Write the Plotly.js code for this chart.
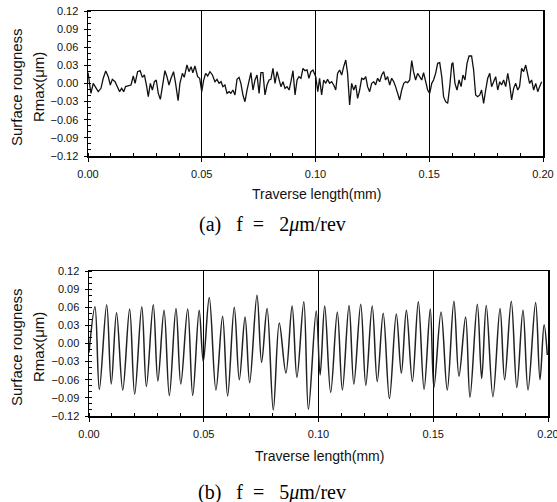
<!DOCTYPE html>
<html>
<head>
<meta charset="utf-8">
<script src="https://cdn.plot.ly/plotly-3.0.1.min.js"></script>
<style>html,body{margin:0;padding:0;background:#fff;overflow:hidden;}#chart{width:557px;height:502px;}</style>
</head>
<body>
<div id="chart"></div>
<script>
// (a) f = 2 um/rev : traverse length (mm) and Rmax (um)
var xA = [0.0000,0.0013,0.0023,0.0034,0.0045,0.0057,0.0067,0.0078,0.0089,0.0098,0.0107,0.0119,0.0130,0.0139,0.0148,0.0157,0.0165,0.0177,0.0189,0.0199,
0.0207,0.0218,0.0229,0.0239,0.0248,0.0258,0.0265,0.0274,0.0283,0.0292,0.0300,0.0309,0.0318,0.0327,0.0338,0.0347,0.0356,0.0365,0.0376,0.0385,
0.0396,0.0404,0.0415,0.0423,0.0435,0.0444,0.0453,0.0461,0.0470,0.0482,0.0491,0.0500,0.0508,0.0517,0.0526,0.0536,0.0547,0.0558,0.0567,0.0576,
0.0585,0.0593,0.0602,0.0611,0.0620,0.0628,0.0637,0.0646,0.0655,0.0664,0.0672,0.0681,0.0690,0.0699,0.0708,0.0716,0.0725,0.0734,0.0743,0.0752,
0.0760,0.0769,0.0778,0.0787,0.0796,0.0804,0.0813,0.0822,0.0831,0.0840,0.0848,0.0857,0.0866,0.0875,0.0884,0.0892,0.0901,0.0910,0.0919,0.0927,
0.0936,0.0945,0.0954,0.0963,0.0971,0.0980,0.0989,
0.1001,0.1010,0.1018,0.1027,0.1036,0.1045,0.1053,0.1062,0.1071,0.1080,0.1089,0.1097,0.1106,0.1115,0.1124,0.1133,0.1141,0.1150,0.1159,0.1168,
0.1177,0.1185,0.1194,0.1203,0.1212,0.1221,0.1229,0.1238,0.1247,0.1256,0.1264,0.1273,0.1282,0.1291,0.1300,0.1308,0.1317,0.1326,0.1335,0.1344,
0.1352,0.1361,0.1370,0.1379,0.1388,0.1396,0.1405,0.1414,0.1423,0.1431,0.1440,0.1449,0.1458,0.1467,0.1475,0.1484,0.1493,0.1502,0.1511,0.1519,
0.1528,0.1537,0.1546,0.1555,0.1563,0.1572,0.1581,0.1590,0.1599,0.1604,0.1613,0.1622,0.1631,0.1640,0.1648,0.1657,0.1666,0.1675,0.1686,0.1695,
0.1704,0.1713,0.1722,0.1730,0.1739,0.1748,0.1757,0.1766,0.1774,0.1783,0.1792,0.1801,0.1810,0.1818,0.1827,0.1836,0.1845,0.1853,0.1862,0.1871,
0.1880,0.1889,0.1897,0.1906,0.1915,0.1924,0.1933,0.1941,0.1950,0.1959,0.1968,0.1977,0.1985,0.1994];
var yA = [0.0180,-0.0163,0.0003,-0.0080,-0.0135,-0.0080,0.0086,0.0207,0.0113,-0.0025,0.0069,0.0030,-0.0080,-0.0135,-0.0080,-0.0135,-0.0052,-0.0041,-0.0025,0.0124,
0.0003,0.0196,0.0212,0.0102,0.0141,-0.0052,-0.0218,0.0003,-0.0108,0.0030,0.0058,-0.0163,-0.0262,-0.0052,0.0212,0.0113,-0.0025,0.0086,0.0196,0.0003,
-0.0284,0.0003,0.0168,0.0102,0.0306,0.0196,0.0279,0.0179,0.0290,0.0113,0.0086,-0.0135,0.0047,0.0168,0.0124,0.0196,0.0141,0.0030,0.0069,0.0003,
0.0030,-0.0052,-0.0025,-0.0163,-0.0135,-0.0163,-0.0108,-0.0190,0.0069,0.0102,0.0003,-0.0190,-0.0301,-0.0108,0.0030,0.0179,-0.0108,0.0058,0.0141,-0.0163,
0.0179,0.0179,-0.0190,-0.0025,0.0058,0.0069,0.0251,0.0003,0.0196,0.0086,-0.0052,0.0030,-0.0080,-0.0052,-0.0108,0.0030,0.0212,-0.0190,0.0058,0.0113,
0.0086,0.0251,0.0212,0.0224,0.0086,0.0196,0.0224,
0.0113,-0.0135,0.0086,-0.0190,0.0058,0.0003,0.0069,0.0003,0.0030,-0.0025,-0.0108,0.0168,0.0224,0.0141,0.0279,0.0389,0.0168,-0.0356,0.0003,-0.0108,
-0.0025,-0.0246,-0.0108,0.0086,0.0069,0.0113,-0.0052,-0.0135,0.0003,0.0030,-0.0025,0.0086,0.0030,0.0141,0.0196,0.0058,0.0113,-0.0025,0.0086,0.0030,
-0.0052,-0.0163,-0.0273,-0.0108,0.0003,0.0030,0.0014,0.0058,0.0378,0.0196,0.0058,0.0168,0.0113,0.0058,0.0179,0.0030,-0.0108,-0.0163,0.0003,0.0058,
0.0168,0.0334,0.0345,0.0113,-0.0218,-0.0301,-0.0328,-0.0052,0.0323,0.0345,0.0003,-0.0108,0.0058,-0.0052,0.0141,0.0058,0.0334,0.0455,0.0455,0.0224,
-0.0190,-0.0218,-0.0190,-0.0108,-0.0328,-0.0108,0.0086,0.0168,-0.0052,0.0030,0.0113,-0.0108,0.0030,-0.0025,0.0058,-0.0052,0.0168,0.0003,-0.0273,-0.0080,
0.0003,-0.0108,-0.0052,0.0251,0.0196,0.0306,0.0113,0.0003,0.0058,-0.0108,0.0003,-0.0135,-0.0052,0.0030];

// (b) f = 5 um/rev : peaks and valleys read from the profile
var xB = [0,0.0026,0.0045,0.0077,0.0097,0.0120,0.0147,0.0177,0.0199,0.0230,0.0250,0.0280,0.0300,0.0327,0.0350,0.0379,0.0400,0.0430,0.0452,0.0480,
0.0498,0.0524,0.0553,0.0582,0.0604,0.0633,0.0655,0.0680,0.0700,0.0732,0.0752,0.0776,0.0803,0.0829,0.0858,0.0885,0.0906,0.0936,0.0956,0.0990,
0.1007,0.1027,0.1053,0.1082,0.1104,0.1133,0.1154,0.1184,0.1206,0.1234,0.1256,0.1282,0.1309,0.1339,0.1361,0.1383,0.1409,0.1435,0.1460,0.1487,
0.1503,0.1534,0.1561,0.1590,0.1612,0.1641,0.1660,0.1692,0.1711,0.1731,0.1760,0.1791,0.1811,0.1840,0.1864,0.1891,0.1913,0.1946,0.1965,0.1983,0.1997];
var yB = [-0.015,0.061,-0.076,0.064,-0.067,0.051,-0.077,0.057,-0.084,0.061,-0.071,0.064,-0.062,0.055,-0.086,0.058,-0.067,0.057,-0.086,0.055,
-0.030,0.076,-0.077,0.045,-0.087,0.060,-0.060,0.044,-0.065,0.080,-0.031,0.058,-0.110,0.034,-0.049,0.062,-0.056,0.069,-0.109,0.054,
-0.052,0.062,-0.081,0.052,-0.077,0.063,-0.067,0.065,-0.069,0.062,-0.063,0.050,-0.091,0.049,-0.049,0.055,-0.063,0.069,-0.076,0.057,
-0.073,0.052,-0.077,0.070,-0.054,0.044,-0.089,0.065,-0.058,0.063,-0.088,0.058,-0.060,0.070,-0.073,0.055,-0.077,0.068,-0.060,0.031,-0.019];

var yTickVals = [-0.12,-0.09,-0.06,-0.03,0,0.03,0.06,0.09,0.12];
var xTickVals = [0,0.05,0.10,0.15,0.20];
var yTitle1 = "Surface rougness";
var yTitle2 = "Rmax(\u03bcm)";
var xTitle = "Traverse length(mm)";
var capA = "(a)\u00a0\u00a0\u00a0f\u00a0\u00a0=\u00a0\u00a0\u00a02<i>\u03bc</i>m/rev";
var capB = "(b)\u00a0\u00a0\u00a0f\u00a0\u00a0=\u00a0\u00a0\u00a05<i>\u03bc</i>m/rev";

var W = 557, H = 502;
function px(x){return x/W;}
function py(y){return 1 - y/H;}

var tickFont = {family:"Liberation Sans, Arial, sans-serif", size:11, color:"#111"};
var yTitleFont = {family:"Liberation Sans, Arial, sans-serif", size:15, color:"#111"};
var xTitleFont = {family:"Liberation Sans, Arial, sans-serif", size:14, color:"#111"};
var capFont = {family:"Liberation Serif, Times New Roman, serif", size:20, color:"#000"};

function xax(dom, anchor){
  return {domain:dom, anchor:anchor, range:[0,0.2], tickvals:xTickVals, tickformat:".2f",
    showline:true, mirror:true, linecolor:"#000", linewidth:1.5,
    ticks:"outside", ticklen:4, tickcolor:"#000", tickwidth:1,
    showgrid:true, gridcolor:"#000", gridwidth:1, zeroline:false,
    minor:{dtick:0.01, tick0:0, ticks:"inside", ticklen:3, tickcolor:"#000", showgrid:false},
    tickfont:tickFont, ticklabelstandoff:3, ticklabeloverflow:"allow", automargin:false, fixedrange:true};
}
function yax(dom, anchor){
  return {domain:dom, anchor:anchor, range:[-0.12,0.12], tickvals:yTickVals, tickformat:".2f",
    showline:true, mirror:true, linecolor:"#000", linewidth:1.5,
    ticks:"outside", ticklen:3, tickcolor:"#000", tickwidth:1,
    showgrid:false, zeroline:false,
    minor:{dtick:0.01, tick0:0, ticks:"inside", ticklen:3, tickcolor:"#000", showgrid:false},
    tickfont:tickFont, ticklabelstandoff:3, automargin:false, fixedrange:true};
}

var traces = [
  {x:xA, y:yA, xaxis:"x", yaxis:"y", type:"scatter", mode:"lines", line:{color:"#111", width:1.3}, hoverinfo:"skip"},
  {x:xB, y:yB, xaxis:"x2", yaxis:"y2", type:"scatter", mode:"lines", line:{color:"#222", width:1.5, shape:"spline", smoothing:1}, hoverinfo:"skip"}
];

var layout = {
  width:W, height:H, autosize:false, showlegend:false,
  margin:{l:0,r:0,t:0,b:0,pad:0},
  paper_bgcolor:"#fff", plot_bgcolor:"#fff",
  xaxis: xax([px(88), px(543)], "y"),
  yaxis: yax([py(156), py(11)], "x"),
  xaxis2: xax([px(89), px(548)], "y2"),
  yaxis2: yax([py(416), py(271)], "x2"),
  annotations:[
    {text:yTitle1, x:px(16), y:py(87), xref:"paper", yref:"paper", textangle:-90, showarrow:false, font:yTitleFont, xanchor:"center", yanchor:"middle"},
    {text:yTitle2, x:px(38), y:py(87), xref:"paper", yref:"paper", textangle:-90, showarrow:false, font:yTitleFont, xanchor:"center", yanchor:"middle"},
    {text:xTitle, x:px(316), y:py(194), xref:"paper", yref:"paper", showarrow:false, font:xTitleFont, xanchor:"center", yanchor:"middle"},
    {text:capA, x:px(272), y:py(224), xref:"paper", yref:"paper", showarrow:false, font:capFont, xanchor:"center", yanchor:"middle"},
    {text:yTitle1, x:px(16), y:py(347), xref:"paper", yref:"paper", textangle:-90, showarrow:false, font:yTitleFont, xanchor:"center", yanchor:"middle"},
    {text:yTitle2, x:px(38), y:py(347), xref:"paper", yref:"paper", textangle:-90, showarrow:false, font:yTitleFont, xanchor:"center", yanchor:"middle"},
    {text:xTitle, x:px(319), y:py(456), xref:"paper", yref:"paper", showarrow:false, font:xTitleFont, xanchor:"center", yanchor:"middle"},
    {text:capB, x:px(272), y:py(492), xref:"paper", yref:"paper", showarrow:false, font:capFont, xanchor:"center", yanchor:"middle"}
  ]
};

Plotly.newPlot("chart", traces, layout, {staticPlot:true, displayModeBar:false});
</script>
</body>
</html>
